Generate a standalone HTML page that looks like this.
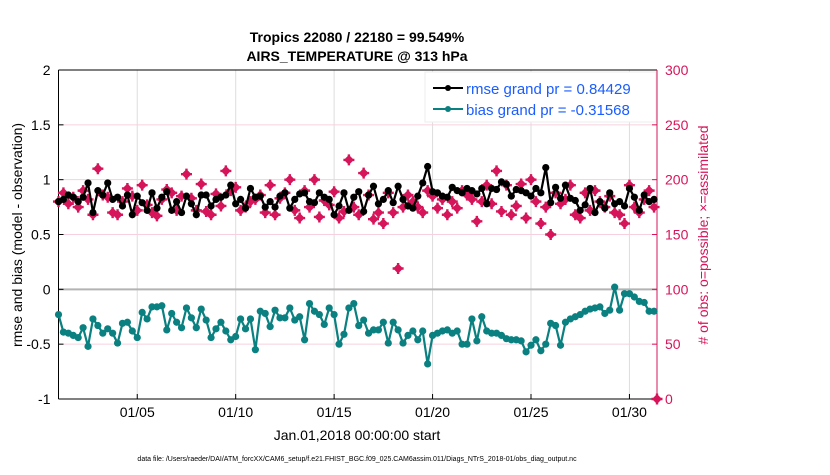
<!DOCTYPE html>
<html><head><meta charset="utf-8"><style>
body{margin:0;background:#fff;}
svg text{font-family:"Liberation Sans",Arial,sans-serif;}
</style></head><body>
<svg width="830" height="470" xmlns="http://www.w3.org/2000/svg" id="chart">
<text x="357" y="42" font-size="14" font-weight="bold" text-anchor="middle">Tropics 22080 / 22180 = 99.549%</text>
<text x="357" y="61" font-size="14" font-weight="bold" text-anchor="middle">AIRS_TEMPERATURE @ 313 hPa</text>
<g id="grid"></g>
<g id="axes"></g>
<g id="marks"></g>
<text transform="translate(22,235) rotate(-90)" font-size="14" text-anchor="middle">rmse and bias (model - observation)</text>
<text transform="translate(708,235) rotate(-90)" font-size="14" text-anchor="middle" fill="#d6145a"># of obs: o=possible; ×=assimilated</text>
<text x="357" y="440" font-size="14" text-anchor="middle">Jan.01,2018 00:00:00 start</text>
<text x="357" y="461" font-size="7" text-anchor="middle">data file: /Users/raeder/DAI/ATM_forcXX/CAM6_setup/f.e21.FHIST_BGC.f09_025.CAM6assim.011/Diags_NTrS_2018-01/obs_diag_output.nc</text>
<g>
<rect x="425" y="72" width="231" height="50" fill="#fff" stroke="#eee"/>
<line x1="433" y1="88" x2="463" y2="88" stroke="#000" stroke-width="2"/>
<circle cx="448" cy="88" r="3" fill="#000"/>
<text x="466" y="94" font-size="15" fill="#1a5cff">rmse grand pr = 0.84429</text>
<line x1="433" y1="109" x2="463" y2="109" stroke="#0a8080" stroke-width="2"/>
<circle cx="448" cy="109" r="3" fill="#0a8080"/>
<text x="466" y="115" font-size="15" fill="#1a5cff">bias grand pr = -0.31568</text>
</g>
</svg>
<script>
const xTickLabels=["01/05","01/10","01/15","01/20","01/25","01/30"];
const xTickDays=[4,9,14,19,24,29];
const yTicksLeft=[2,1.5,1,0.5,0,-0.5,-1];
const yTicksRight=[300,250,200,150,100,50,0];
const rmse=[0.80,0.82,0.86,0.84,0.80,0.84,0.97,0.70,0.90,0.86,0.97,0.82,0.84,0.76,0.86,0.68,0.85,0.79,0.72,0.88,
0.74,0.84,0.89,0.72,0.80,0.70,0.85,0.78,0.68,0.86,0.86,0.76,0.82,0.84,0.86,0.95,0.78,0.82,0.74,0.92,
0.84,0.85,0.75,0.80,0.75,0.85,0.88,0.74,0.82,0.87,0.88,0.80,0.79,0.88,0.84,0.82,0.68,0.76,0.88,0.72,
0.84,0.89,0.71,0.86,0.94,0.78,0.82,0.90,0.79,0.94,0.82,0.76,0.74,0.85,0.97,
1.12,0.89,0.88,0.85,0.84,0.93,0.90,0.88,0.92,0.90,0.87,0.92,0.78,0.92,0.91,0.98,0.96,0.85,0.91,0.90,0.88,0.85,
0.92,0.88,1.11,
0.79,0.93,0.83,0.95,0.83,0.81,0.72,0.77,0.92,0.70,0.80,0.74,0.88,0.78,0.80,
0.76,0.92,0.84,0.72,0.86,0.80,0.82];
const bias=[-0.23,-0.39,-0.40,-0.42,-0.44,-0.35,-0.52,-0.27,-0.33,-0.40,
-0.36,-0.40,-0.49,-0.31,-0.30,-0.38,-0.44,-0.21,-0.27,-0.16,
-0.16,-0.15,-0.37,-0.22,-0.30,-0.35,-0.17,-0.26,-0.35,-0.18,
-0.28,-0.44,-0.36,-0.30,-0.38,-0.46,-0.43,-0.27,-0.36,-0.27,
-0.55,-0.20,-0.22,-0.34,-0.19,-0.26,-0.26,-0.17,-0.28,-0.25,
-0.46,-0.13,-0.20,-0.23,-0.32,-0.17,-0.23,-0.50,-0.41,-0.17,
-0.13,-0.33,-0.28,-0.40,-0.37,-0.37,-0.30,-0.49,-0.30,-0.37,
-0.49,-0.42,-0.38,-0.46,-0.38,-0.68,-0.42,-0.40,-0.38,-0.37,
-0.40,-0.38,-0.50,-0.50,-0.27,-0.47,-0.25,-0.38,-0.40,-0.40,-0.42,
-0.45,-0.46,-0.46,-0.47,-0.57,-0.51,-0.46,-0.56,-0.50,
-0.31,-0.33,-0.51,-0.30,-0.27,-0.25,-0.23,-0.20,-0.18,-0.17,
-0.16,-0.22,-0.19,0.02,-0.19,-0.04,-0.04,-0.07,-0.11,-0.12,-0.20,-0.20];
const obsCount=[180,188,178,184,175,190,182,168,210,186,184,170,168,180,192,185,172,195,177,170,
167,182,191,188,172,185,205,183,172,196,171,168,187,176,208,190,193,172,175,180,
182,186,170,195,168,183,188,200,172,165,190,175,200,166,181,177,189,165,171,218,
175,168,206,186,164,170,
160,188,170,119,175,186,180,175,170,190,185,174,182,168,180,174,190,186,182,162,
180,195,178,208,171,195,168,176,196,165,200,180,160,175,150,188,178,182,195,168,
165,188,172,190,180,175,185,170,168,160,195,175,170,182,190,175];
const finalObsDay=[30.4];const finalObsCount=[0];
const stepDays=0.25;
const X0=58.5,X1=657,Y0=70,Y1=399,DAYS=30.4;
const xs=d=>X0+d*(X1-X0)/DAYS;
const yl=v=>Y0+(2-v)*(Y1-Y0)/3;
const yr=v=>Y1-v*(Y1-Y0)/300;
const NS="http://www.w3.org/2000/svg";
function mk(p,t,a){const e=document.createElementNS(NS,t);for(const k in a)e.setAttribute(k,a[k]);p.appendChild(e);return e;}
const grid=document.getElementById('grid'),axes=document.getElementById('axes'),marks=document.getElementById('marks');
mk(grid,'rect',{x:X0,y:Y0,width:X1-X0,height:Y1-Y0,fill:'#fff'});
xTickDays.forEach((d,i)=>{
 const l=mk(grid,'line',{x1:xs(d),x2:xs(d),y1:Y0,y2:Y1,stroke:'#ddd','stroke-width':1});
 
 
 mk(axes,'line',{x1:xs(d),x2:xs(d),y1:Y1,y2:Y1-5,stroke:'#000'});
 const t=mk(axes,'text',{x:xs(d),y:Y1+18,'font-size':14,'text-anchor':'middle'});t.textContent=xTickLabels[i];
 
 
});
yTicksLeft.forEach((v,i)=>{
 if(v!==0&&v!==2&&v!==-1){const g=mk(grid,'line',{x1:X0,x2:X1,y1:yl(v),y2:yl(v),stroke:'#f6d0df','stroke-width':1});
 
 }
 mk(axes,'line',{x1:X0,x2:X0+5,y1:yl(v),y2:yl(v),stroke:'#000'});
 const t=mk(axes,'text',{x:X0-8,y:yl(v)+5,'font-size':14,'text-anchor':'end'});t.textContent=v;
 
 
 const r=yTicksRight[i];
 mk(axes,'line',{x1:X1,x2:X1-5,y1:yr(r),y2:yr(r),stroke:'#d6145a'});
 const t2=mk(axes,'text',{x:X1+8,y:yr(r)+5,'font-size':14,fill:'#d6145a'});t2.textContent=r;
 
 
});
const z=mk(grid,'line',{x1:X0,x2:X1,y1:yl(0),y2:yl(0),stroke:'#b3b3b3','stroke-width':2});


mk(axes,'line',{x1:X0,x2:X0,y1:Y0,y2:Y1,stroke:'#000'});
mk(axes,'line',{x1:X0,x2:X1,y1:Y1,y2:Y1,stroke:'#000'});
mk(axes,'line',{x1:X0,x2:X1,y1:Y0,y2:Y0,stroke:'#000'});
mk(axes,'line',{x1:X1,x2:X1,y1:Y0,y2:Y1,stroke:'#d6145a'});
function cross(x,y){
 const p=mk(marks,'path',{d:`M${x-5},${y}L${x},${y-5}L${x+5},${y}L${x},${y+5}Z M${x-5.5},${y-1.2}h11v2.4h-11z M${x-1.2},${y-5.5}h2.4v11h-2.4z`,fill:'#d6145a'});
 
 
}
obsCount.forEach((c,i)=>cross(xs(i*stepDays),yr(c)));
finalObsDay.forEach((d,i)=>cross(xs(d),yr(finalObsCount[i])));
function series(vals,color,name){
 const pts=vals.map((v,i)=>xs(i*stepDays).toFixed(1)+','+yl(v).toFixed(1)).join(' ');
 const pl=mk(marks,'polyline',{points:pts,fill:'none',stroke:color,'stroke-width':2.2});
 
 
 vals.forEach((v,i)=>{const c=mk(marks,'circle',{cx:xs(i*stepDays),cy:yl(v),r:3.6,fill:color});
 
 });
}
series(rmse,'#000','rmse');
series(bias,'#0a8080','bias');
</script>
</body></html>
